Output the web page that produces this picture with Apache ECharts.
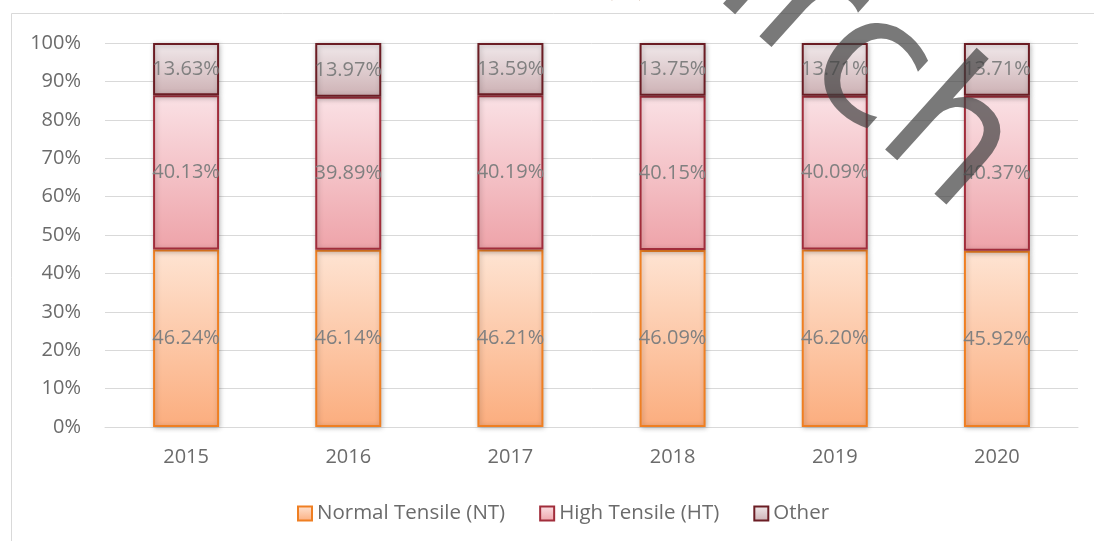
<!DOCTYPE html>
<html>
<head>
    <meta charset="utf-8">
    <title>Share by type</title>
    <script src="https://cdn.jsdelivr.net/npm/echarts@6/dist/echarts.min.js"></script>
    <style>
      html, body { margin:0; padding:0; background:#fff; }
    </style>
</head>
<body>
    <div id="main" style="width:1094px;height:541px;"></div>
    <script type="text/javascript">
      // data
      var years = ['2015', '2016', '2017', '2018', '2019', '2020'];
      var normalTensile = [46.24, 46.14, 46.21, 46.09, 46.20, 45.92];
      var highTensile = [40.13, 39.89, 40.19, 40.15, 40.09, 40.37];
      var other = [13.63, 13.97, 13.59, 13.75, 13.71, 13.71];
      var seriesNames = ['Normal Tensile (NT)', 'High Tensile (HT)', 'Other'];

      var FONT = 'Open Sans';

      function grad(top, bottom) {
        return new echarts.graphic.LinearGradient(0, 0, 0, 1, [
          {offset: 0, color: top},
          {offset: 1, color: bottom}
        ]);
      }

      function barSeries(name, data, fill, border) {
        return {
          name: name,
          type: 'bar',
          stack: 'total',
          barWidth: 66,
          data: data,
          itemStyle: {
            color: fill,
            borderColor: border,
            borderWidth: 2,
            shadowBlur: 5,
            shadowColor: 'rgba(0,0,0,0.25)',
            shadowOffsetX: 1,
            shadowOffsetY: 1
          },
          label: {
            show: true,
            position: 'inside',
            color: '#808080',
            fontSize: 20,
            fontFamily: FONT,
            formatter: function (p) { return p.value.toFixed(2) + '%'; }
          }
        };
      }

      var chart = echarts.init(document.getElementById('main'));
      var option = {
        animation: false,
        backgroundColor: '#fff',
        grid: {left: 105, right: 16, top: 43, bottom: 114},
        legend: {
          data: seriesNames,
          left: 292,
          top: 498,
          icon: 'rect',
          itemWidth: 14,
          itemHeight: 14,
          itemGap: 34,
          textStyle: {color: '#6b6b6b', fontSize: 20.5, fontFamily: FONT}
        },
        xAxis: {
          type: 'category',
          data: years,
          axisLine: {lineStyle: {color: '#d9d9d9'}},
          axisTick: {show: false},
          axisLabel: {color: '#6b6b6b', fontSize: 20, fontFamily: FONT, margin: 20}
        },
        yAxis: {
          type: 'value',
          min: 0,
          max: 100,
          interval: 10,
          axisLine: {show: false},
          axisTick: {show: false},
          splitLine: {lineStyle: {color: '#d9d9d9'}},
          axisLabel: {color: '#6b6b6b', fontSize: 20, fontFamily: FONT, margin: 24, formatter: '{value}%'}
        },
        series: [
          barSeries(seriesNames[0], normalTensile, grad('#fee4d3', '#fbad7e'), '#ef7f22'),
          barSeries(seriesNames[1], highTensile, grad('#fae1e5', '#eea3a9'), '#a12d3b'),
          barSeries(seriesNames[2], other, grad('#f1e9eb', '#cdb1b4'), '#6b1d24')
        ],
        graphic: [
          {
            type: 'rect',
            shape: {x: 11.5, y: 13.5, width: 1200, height: 600},
            style: {fill: 'none', stroke: '#d9d9d9', lineWidth: 1},
            z: -1
          },
          {
            // title, mostly cut off by the top edge
            type: 'text',
            x: 18,
            y: 1,
            style: {
              text: 'Figure 4: Total Market Share of Steel Wire Rod Sales (%) of Output Volume by Type',
              fontSize: 25.5,
              fontWeight: 'bold',
              fontFamily: 'Liberation Serif',
              fill: '#8a4513',
              align: 'left',
              verticalAlign: 'bottom'
            }
          },
          {
            // watermark
            type: 'text',
            x: 989,
            y: 180,
            rotation: -42 * Math.PI / 180,
            z: 100,
            style: {
              text: 'Research',
              fontSize: 180,
              fontFamily: 'DejaVu Sans',
              fill: 'rgba(64,64,64,0.7)',
              align: 'right',
              verticalAlign: 'middle'
            }
          }
        ]
      };
      chart.setOption(option);
    </script>
</body>
</html>
